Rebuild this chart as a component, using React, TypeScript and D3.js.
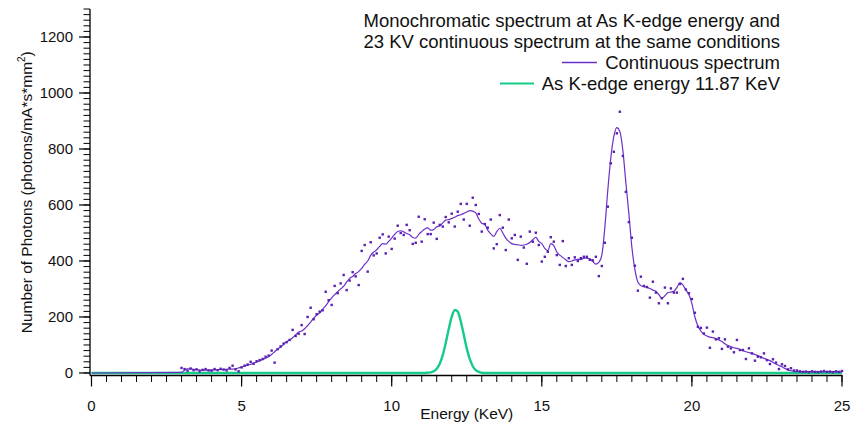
import React from "react";
import * as d3 from "d3";

// Continuous (23 kV) spectrum, sampled every 0.1 keV from 3.0 keV to 25.0 keV
const continuousStartKeV = 3.0;
const continuousStepKeV = 0.1;

// Smoothed continuous spectrum (photons / mA·s·mm²)
const continuousSmoothed = [
  2, 10, 15, 15, 13, 12, 11, 10, 10, 10,
  11, 11, 12, 12, 13, 13, 14, 14, 15, 18,
  21, 25, 28, 31, 35, 39, 43, 48, 53, 58,
  66, 76, 86, 92, 102, 112, 118, 126, 136, 146,
  150, 158, 170, 182, 195, 207, 214, 228, 240, 255,
  268, 280, 290, 300, 310, 325, 338, 345, 355, 362,
  374, 388, 400, 420, 432, 440, 452, 462, 460, 470,
  482, 495, 505, 508, 504, 498, 494, 484, 482, 495,
  505, 514, 518, 510, 512, 522, 525, 536, 546, 548,
  552, 556, 562, 565, 570, 575, 580, 578, 572, 550,
  535, 531, 510, 497, 488, 505, 517, 500, 482, 470,
  462, 459, 458, 456, 457, 460, 466, 476, 484, 470,
  462, 445, 437, 462, 455, 432, 421, 412, 404, 398,
  400, 404, 406, 405, 410, 410, 408, 398, 389, 395,
  421, 520, 655, 770, 845, 876, 862, 795, 680, 570,
  450, 370, 325, 312, 308, 306, 302, 296, 292, 280,
  267, 276, 287, 289, 292, 305, 322, 315, 296, 280,
  248, 200, 168, 150, 138, 132, 128, 126, 122, 118,
  112, 104, 98, 94, 90, 88, 84, 80, 76, 73,
  70, 66, 62, 57, 52, 48, 44, 38, 32, 27,
  22, 16, 11, 8, 6, 5, 5, 5, 5, 5,
  5, 5, 5, 5, 5, 5, 5, 5, 5, 5,
  5,
];

// Measured counts of the continuous spectrum (same energy grid)
const continuousMeasured = [
  18, 14, 8, 16, 10, 13, 6, 11, 14, 9,
  8, 14, 10, 15, 12, 9, 18, 26, 13, 6,
  20, 26, 30, 40, 33, 42, 46, 50, 58, 62,
  80, 37, 85, 95, 105, 110, 118, 154, 132, 140,
  171, 139, 200, 233, 192, 210, 219, 224, 290, 260,
  243, 311, 285, 320, 350, 296, 330, 360, 345, 314,
  436, 457, 362, 467, 420, 427, 483, 495, 427, 487,
  443, 480, 526, 500, 493, 529, 510, 461, 465, 558,
  469, 549, 496, 496, 537, 479, 529, 523, 557, 538,
  569, 523, 576, 604, 548, 604, 526, 626, 600, 568,
  505, 532, 519, 548, 445, 460, 564, 519, 439, 548,
  481, 493, 404, 487, 448, 390, 505, 469, 501, 457,
  398, 415, 433, 485, 469, 421, 386, 471, 382, 410,
  386, 413, 400, 410, 415, 415, 404, 402, 415, 346,
  382, 465, 594, 749, 790, 856, 933, 775, 647, 539,
  483, 383, 294, 344, 311, 307, 269, 326, 287, 249,
  267, 305, 249, 302, 287, 287, 318, 336, 298, 285,
  264, 215, 165, 161, 141, 162, 90, 148, 120, 124,
  86, 120, 94, 88, 74, 118, 82, 82, 50, 88,
  70, 44, 58, 56, 70, 46, 32, 49, 37, 14,
  31, 25, 13, 17, 9, 9, 6, 4, 5, 3,
  6, 4, 3, 5, 7, 4, 5, 3, 6, 4,
  7,
];

// Monochromatic line at the As K-edge
const monoEnergy = [
  0, 11.1, 11.2, 11.3, 11.4, 11.5, 11.6, 11.7, 11.8, 11.9, 12.0, 12.1,
  12.2, 12.3, 12.4, 12.5, 12.6, 12.7, 12.8, 12.9, 13.0, 13.1, 25,
];
const monoCounts = [
  0, 0, 1, 2, 6, 15, 33, 64, 107, 157, 201, 225,
  219, 185, 137, 88, 50, 24, 10, 4, 1, 0, 0,
];

const xMajorTicks = [0, 5, 10, 15, 20, 25];
const yMajorTicks = [0, 200, 400, 600, 800, 1000, 1200];

const titleLines = [
  "Monochromatic spectrum at As K-edge energy and",
  "23 KV continuous spectrum at the same conditions",
];
const seriesNames = ["Continuous spectrum", "As K-edge energy 11.87 KeV"];

const PURPLE_LINE = "#6c30c8";
const PURPLE_DOT = "#5a20b0";
const GREEN = "#16cb88";
const FONT = "'Liberation Sans', Arial, sans-serif";

export default function App() {
  const width = 853;
  const height = 427;
  const axisX = 90;
  const axisY = 375.5;

  const x = d3.scaleLinear().domain([0, 25]).range([91.5, 842]);
  const y = d3.scaleLinear().domain([-9, 1300]).range([axisY, 9]);

  const contEnergy = continuousSmoothed.map(
    (_, i) => +(continuousStartKeV + i * continuousStepKeV).toFixed(2)
  );

  const contPoints: [number, number][] = [
    [0, 0],
    ...contEnergy.map((e, i) => [e, continuousSmoothed[i]] as [number, number]),
  ];

  const line = d3
    .line<[number, number]>()
    .x((d) => x(d[0]))
    .y((d) => y(d[1]))
    .curve(d3.curveMonotoneX);

  const monoPath = line(monoEnergy.map((e, i) => [e, monoCounts[i]] as [number, number])) || "";
  const contPath = line(contPoints) || "";

  const xMinor = d3.range(0, 25.001, 0.5);
  const yMinor = d3.range(0, 1300.001, 20);

  const legendRight = 780;

  return (
    <svg
      width={width}
      height={height}
      style={{ position: "absolute", left: 0, top: 0, background: "#fff" }}
      fontFamily={FONT}
    >
      <rect x={0} y={0} width={width} height={height} fill="#fff" />

      {/* monochromatic K-edge line */}
      <path d={monoPath} fill="none" stroke={GREEN} strokeWidth={2.4} />

      {/* continuous spectrum: smoothed curve and measured points */}
      <path d={contPath} fill="none" stroke={PURPLE_LINE} strokeWidth={1.2} />
      {continuousMeasured.map((v, i) => (
        <rect
          key={i}
          x={x(contEnergy[i]) - 1.2}
          y={y(v) - 1.2}
          width={2.4}
          height={2.4}
          fill={PURPLE_DOT}
        />
      ))}

      {/* axes */}
      <g stroke="#000" strokeWidth={1}>
        <line x1={axisX} y1={9} x2={axisX} y2={axisY} strokeWidth={1.3} />
        <line x1={axisX} y1={axisY} x2={842.5} y2={axisY} strokeWidth={1.3} />
        {xMinor.map((t) => (
          <line key={"xm" + t} x1={x(t)} x2={x(t)} y1={axisY} y2={axisY + 6.5} />
        ))}
        {xMajorTicks.map((t) => (
          <line key={"xM" + t} x1={x(t)} x2={x(t)} y1={axisY} y2={axisY + 11} strokeWidth={1.2} />
        ))}
        {yMinor.map((t) => (
          <line key={"ym" + t} x1={axisX - 6.5} x2={axisX} y1={y(t)} y2={y(t)} />
        ))}
        {yMajorTicks.map((t) => (
          <line key={"yM" + t} x1={axisX - 11} x2={axisX} y1={y(t)} y2={y(t)} strokeWidth={1.2} />
        ))}
      </g>

      <g fill="#111" fontSize={15}>
        {xMajorTicks.map((t) => (
          <text key={"xl" + t} x={x(t)} y={411} textAnchor="middle">
            {t}
          </text>
        ))}
        {yMajorTicks.map((t) => (
          <text key={"yl" + t} x={73} y={y(t)} dy="0.35em" textAnchor="end">
            {t}
          </text>
        ))}
      </g>

      <text x={(91.5 + 842) / 2} y={419} textAnchor="middle" fontSize={15.5} fill="#111">
        Energy (KeV)
      </text>
      <text
        transform={`translate(32, ${(9 + axisY) / 2}) rotate(-90)`}
        textAnchor="middle"
        fontSize={15.5}
        fill="#111"
      >
        Number of Photons (photons/mA*s*mm
        <tspan fontSize={10} dy={-7}>2</tspan>
        <tspan dy={7}>)</tspan>
      </text>

      {/* legend */}
      <g fontSize={18.5} fill="#111" textAnchor="end">
        <text x={legendRight} y={27}>{titleLines[0]}</text>
        <text x={legendRight} y={48}>{titleLines[1]}</text>
        <text x={legendRight} y={69}>{seriesNames[0]}</text>
        <text x={legendRight} y={90}>{seriesNames[1]}</text>
      </g>
      <line x1={562} x2={597} y1={62.5} y2={62.5} stroke={PURPLE_LINE} strokeWidth={1.3} />
      <line x1={500} x2={534} y1={83.5} y2={83.5} stroke={GREEN} strokeWidth={2.2} />
    </svg>
  );
}
